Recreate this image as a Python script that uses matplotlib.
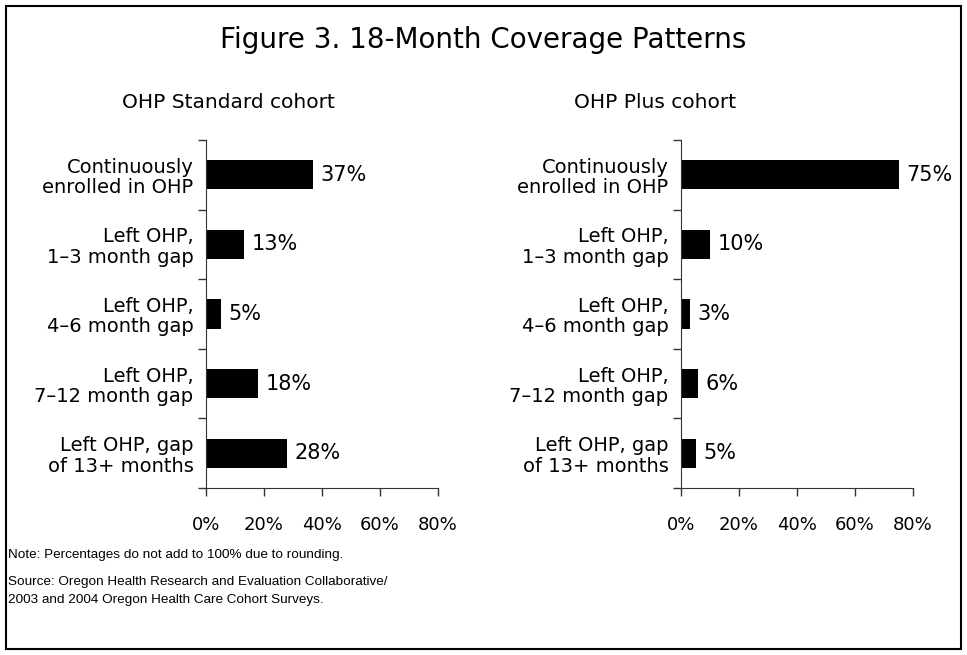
import matplotlib.pyplot as plt
from matplotlib.patches import Rectangle

# data
categories = [
    "Continuously\nenrolled in OHP",
    "Left OHP,\n1\u20133 month gap",
    "Left OHP,\n4\u20136 month gap",
    "Left OHP,\n7\u201312 month gap",
    "Left OHP, gap\nof 13+ months",
]
standard_values = [37, 13, 5, 18, 28]
plus_values = [75, 10, 3, 6, 5]
x_ticks = [0, 20, 40, 60, 80]
x_tick_labels = ["0%", "20%", "40%", "60%", "80%"]

W, H = 967, 655
FONT = "DejaVu Sans"
NOTE_FONT = "Liberation Sans"


def px_axes(fig, x0, x1, y_top, y_bottom):
    """Add axes given pixel coordinates (origin top-left)."""
    return fig.add_axes([x0 / W, (H - y_bottom) / H, (x1 - x0) / W, (y_bottom - y_top) / H])


def draw_panel(ax, values, title, title_x):
    """Draw one cohort as horizontal bars with value labels."""
    n = len(values)
    ypos = list(range(n))
    ax.barh(ypos, values, height=0.42, color="black")
    for y, v in zip(ypos, values):
        ax.text(v + 2.6, y, f"{v}%", va="center", ha="left", fontsize=15, family=FONT)

    ax.set_xlim(0, 80)
    ax.set_ylim(n - 0.5, -0.5)
    ax.set_xticks(x_ticks)
    ax.set_xticklabels(x_tick_labels, fontsize=13, family=FONT)
    ax.tick_params(axis="x", direction="out", length=6, width=1, pad=14, color="#333333")

    # category separators as y ticks, labels as minor ticks at bar centres
    ax.set_yticks([i - 0.5 for i in range(n + 1)])
    ax.set_yticklabels([])
    ax.tick_params(axis="y", which="major", direction="out", length=6, width=1, color="#333333")
    ax.set_yticks(ypos, minor=True)
    ax.set_yticklabels(categories, minor=True, fontsize=14, family=FONT,
                       ha="right", multialignment="right", linespacing=1.1)
    ax.tick_params(axis="y", which="minor", length=0, pad=9)

    for side in ["top", "right"]:
        ax.spines[side].set_visible(False)
    for side in ["left", "bottom"]:
        ax.spines[side].set_color("#333333")

    # cohort heading, placed by pixel
    fig = ax.figure
    fig.text(title_x / W, 1 - 103 / H, title, ha="center", va="center",
             fontsize=14.5, family=FONT)


fig = plt.figure(figsize=(W / 100, H / 100), dpi=100)

fig.patches.append(Rectangle((6 / W, 6 / H), (W - 12) / W, (H - 12) / H,
                             transform=fig.transFigure, fill=False,
                             edgecolor="black", linewidth=1.5))

fig.text(483 / W, 1 - 40 / H, "Figure 3. 18-Month Coverage Patterns",
         ha="center", va="center", fontsize=20, family=FONT)

ax_left = px_axes(fig, 206, 438, 140, 488)
draw_panel(ax_left, standard_values, "OHP Standard cohort", 228)

ax_right = px_axes(fig, 681, 913, 140, 488)
draw_panel(ax_right, plus_values, "OHP Plus cohort", 655)

fig.text(8 / W, 1 - 555 / H, "Note: Percentages do not add to 100% due to rounding.",
         ha="left", va="center", fontsize=9.7, family=NOTE_FONT)
fig.text(8 / W, 1 - 582 / H, "Source: Oregon Health Research and Evaluation Collaborative/",
         ha="left", va="center", fontsize=9.7, family=NOTE_FONT)
fig.text(8 / W, 1 - 600 / H, "2003 and 2004 Oregon Health Care Cohort Surveys.",
         ha="left", va="center", fontsize=9.7, family=NOTE_FONT)

fig.savefig("out.png", dpi=100)
